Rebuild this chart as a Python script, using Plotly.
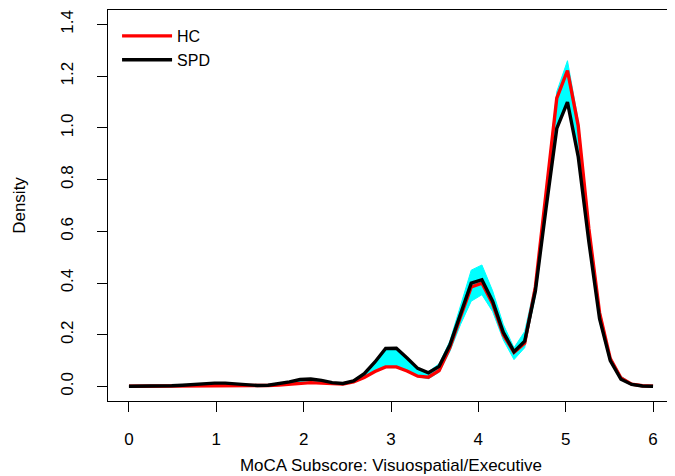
import numpy as np
import plotly.graph_objects as go

# Grid of evaluation points (50 points from 0 to 6)
x_vals = np.linspace(0, 6, 50)

hc_density = [0.001, 0.001, 0.001, 0.001, 0.002, 0.002, 0.003, 0.004, 0.004, 0.004,
              0.004, 0.003, 0.003, 0.004, 0.006, 0.010, 0.014, 0.015, 0.013, 0.010,
              0.010, 0.018, 0.035, 0.058, 0.076, 0.076, 0.060, 0.040, 0.036, 0.062,
              0.150, 0.270, 0.385, 0.400, 0.320, 0.200, 0.132, 0.168, 0.385, 0.750,
              1.115, 1.222, 1.010, 0.610, 0.285, 0.108, 0.033, 0.009, 0.003, 0.001]

spd_density = [0.001, 0.001, 0.001, 0.002, 0.003, 0.005, 0.008, 0.011, 0.013, 0.013,
               0.010, 0.006, 0.004, 0.005, 0.010, 0.018, 0.027, 0.029, 0.024, 0.015,
               0.012, 0.022, 0.050, 0.095, 0.147, 0.148, 0.110, 0.070, 0.053, 0.078,
               0.160, 0.282, 0.400, 0.413, 0.330, 0.210, 0.135, 0.175, 0.370, 0.690,
               0.998, 1.100, 0.890, 0.560, 0.262, 0.100, 0.028, 0.008, 0.002, 0.001]

band_lower = [0.001, 0.001, 0.001, 0.001, 0.002, 0.002, 0.003, 0.004, 0.004, 0.004,
              0.004, 0.003, 0.003, 0.004, 0.006, 0.010, 0.014, 0.015, 0.013, 0.010,
              0.010, 0.018, 0.033, 0.056, 0.073, 0.073, 0.058, 0.038, 0.030, 0.055,
              0.135, 0.240, 0.330, 0.355, 0.290, 0.180, 0.104, 0.150, 0.350, 0.680,
              0.990, 1.100, 0.880, 0.550, 0.250, 0.095, 0.026, 0.007, 0.002, 0.001]

band_upper = [0.001, 0.001, 0.001, 0.002, 0.003, 0.005, 0.008, 0.011, 0.013, 0.013,
              0.010, 0.006, 0.004, 0.005, 0.010, 0.018, 0.027, 0.029, 0.024, 0.015,
              0.012, 0.022, 0.050, 0.095, 0.147, 0.148, 0.110, 0.070, 0.057, 0.088,
              0.175, 0.310, 0.450, 0.470, 0.370, 0.240, 0.150, 0.213, 0.400, 0.765,
              1.140, 1.260, 1.030, 0.630, 0.300, 0.115, 0.040, 0.012, 0.004, 0.001]

x_ticks = [0, 1, 2, 3, 4, 5, 6]
y_ticks = [0.0, 0.2, 0.4, 0.6, 0.8, 1.0, 1.2, 1.4]
y_tick_text = ["0.0", "0.2", "0.4", "0.6", "0.8", "1.0", "1.2", "1.4"]

FONT = "Liberation Sans, Arial, Helvetica, sans-serif"

fig = go.Figure()

# cyan band
fig.add_trace(go.Scatter(
    x=np.concatenate([x_vals, x_vals[::-1]]),
    y=np.concatenate([band_upper, band_lower[::-1]]),
    fill="toself", fillcolor="#00FFFF", line=dict(color="#00FFFF", width=1),
    mode="lines", showlegend=False, hoverinfo="skip"))

fig.add_trace(go.Scatter(x=x_vals, y=hc_density, mode="lines", name="HC",
                         line=dict(color="#FF0000", width=3.4)))
fig.add_trace(go.Scatter(x=x_vals, y=spd_density, mode="lines", name="SPD",
                         line=dict(color="#000000", width=3.4)))

# page body has an 8px default margin, so the figure is 8px smaller
fig.update_layout(
    width=667, height=468,
    margin=dict(l=100, r=1, t=2, b=75, pad=0),
    paper_bgcolor="white", plot_bgcolor="white",
    font=dict(family=FONT, size=16, color="black"),
    showlegend=True,
    legend=dict(x=0.016, y=0.977, xanchor="left", yanchor="top",
                bgcolor="rgba(0,0,0,0)", borderwidth=0,
                font=dict(size=16), tracegroupgap=0, itemwidth=50),
)

fig.update_xaxes(
    range=[-0.24, 6.24], tickvals=x_ticks, ticktext=[str(t) for t in x_ticks],
    showgrid=False, zeroline=False, showline=True, mirror=True,
    linecolor="black", linewidth=1, automargin=False,
    ticks="outside", ticklen=10, tickwidth=1, tickcolor="black",
    ticklabelstandoff=13,
    title=dict(text="MoCA Subscore: Visuospatial/Executive", standoff=10,
               font=dict(size=17)),
    tickfont=dict(size=17))

fig.update_yaxes(
    range=[-0.056, 1.456], tickvals=y_ticks, ticktext=y_tick_text,
    showgrid=False, zeroline=False, showline=True, mirror=True,
    linecolor="black", linewidth=1, automargin=False,
    ticks="outside", ticklen=10, tickwidth=1, tickcolor="black",
    tickangle=-90, ticklabelstandoff=17,
    title=dict(text="Density", standoff=28, font=dict(size=17)),
    tickfont=dict(size=17))

fig.write_html("out.html")
